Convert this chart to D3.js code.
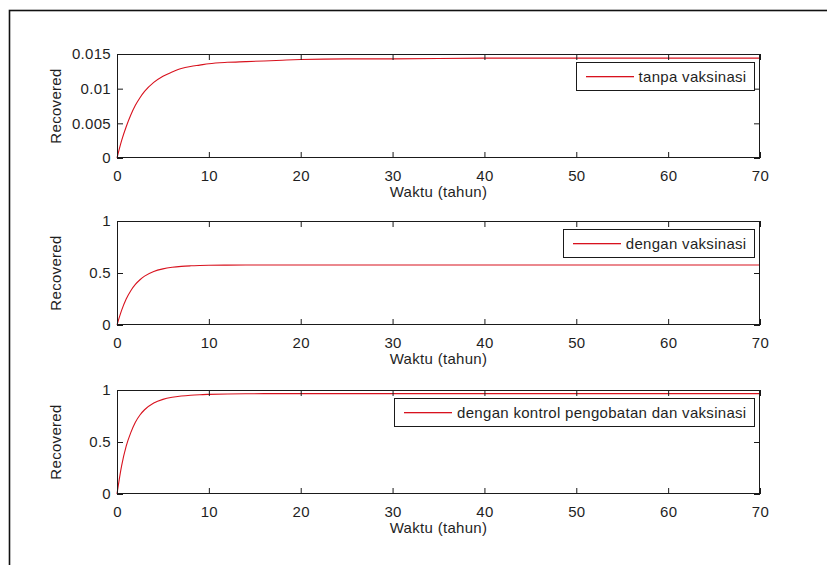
<!DOCTYPE html>
<html>
<head>
<meta charset="utf-8">
<script src="https://cdn.jsdelivr.net/npm/d3@7"></script>
<style>
  html, body { margin: 0; padding: 0; background: #fff; }
  svg { display: block; }
  text { font-family: "Liberation Sans", Arial, sans-serif; fill: #1f1f1f; }
</style>
</head>
<body>
<svg id="fig" width="827" height="565"></svg>
<script>
// Time samples (years)
const tahun = [0, 0.5, 1, 1.5, 2, 2.5, 3, 4, 5, 6, 7, 8, 9, 10, 12, 14, 16, 18, 20, 25, 30, 40, 50, 60, 70];

// Recovered population for each scenario
const tanpaVaksinasi = [0, 0.0025, 0.0045, 0.0062, 0.0076, 0.0087, 0.0096, 0.0109, 0.0118, 0.0124, 0.0129, 0.0132, 0.0134, 0.0136, 0.0138, 0.0139, 0.0140, 0.0141, 0.0142, 0.0143, 0.0143, 0.0144, 0.0144, 0.0144, 0.0144];
const denganVaksinasi = [0, 0.14, 0.25, 0.33, 0.39, 0.435, 0.47, 0.515, 0.54, 0.555, 0.564, 0.569, 0.572, 0.574, 0.576, 0.577, 0.577, 0.577, 0.577, 0.577, 0.577, 0.577, 0.577, 0.577, 0.577];
const denganKontrol = [0, 0.27, 0.46, 0.59, 0.69, 0.76, 0.81, 0.875, 0.91, 0.93, 0.942, 0.95, 0.955, 0.958, 0.962, 0.964, 0.965, 0.965, 0.965, 0.965, 0.965, 0.965, 0.965, 0.965, 0.965];

// Axis ticks
const xTicks = [0, 10, 20, 30, 40, 50, 60, 70];
const yTicks1 = [0, 0.005, 0.01, 0.015];
const yTicks2 = [0, 0.5, 1];
const yTickFmt1 = ["0", "0.005", "0.01", "0.015"];
const yTickFmt2 = ["0", "0.5", "1"];

const xLabel = "Waktu (tahun)";
const yLabel = "Recovered";

const panels = [
  { values: tanpaVaksinasi, yMax: 0.015, ticks: yTicks1, tickText: yTickFmt1, legend: "tanpa vaksinasi", top: 54 },
  { values: denganVaksinasi, yMax: 1, ticks: yTicks2, tickText: yTickFmt2, legend: "dengan vaksinasi", top: 221 },
  { values: denganKontrol, yMax: 1, ticks: yTicks2, tickText: yTickFmt2, legend: "dengan kontrol pengobatan dan vaksinasi", top: 390 }
];

const svg = d3.select("#fig");
const left = 117, right = 760, plotH = 104, tickLen = 6;
const lineColor = "#d8121e";
const fontSize = 15;
const spacing = "0.3px";

// Figure frame
svg.append("rect")
  .attr("x", 9.5).attr("y", 10.5)
  .attr("width", 900).attr("height", 700)
  .attr("fill", "#fff").attr("stroke", "#111").attr("stroke-width", 1.6);

const x = d3.scaleLinear().domain([0, 70]).range([left, right]);

panels.forEach(p => {
  const top = p.top, bottom = top + plotH;
  const y = d3.scaleLinear().domain([0, p.yMax]).range([bottom, top]);
  const g = svg.append("g");

  g.append("rect").attr("x", left).attr("y", top)
    .attr("width", right - left).attr("height", plotH).attr("fill", "#fff");

  // Data curve
  const line = d3.line()
    .x((d, i) => x(tahun[i]))
    .y(d => y(d))
    .curve(d3.curveMonotoneX);
  g.append("path").datum(p.values)
    .attr("d", line)
    .attr("fill", "none")
    .attr("stroke", lineColor)
    .attr("stroke-width", 1.1);

  // Axes: bottom/left labelled, top/right tick marks only (inward ticks)
  const axB = d3.axisBottom(x).tickValues(xTicks).tickSize(-tickLen).tickPadding(tickLen + 6).tickFormat(d3.format("d"));
  const axT = d3.axisTop(x).tickValues(xTicks).tickSize(-tickLen).tickFormat("");
  const axL = d3.axisLeft(y).tickValues(p.ticks).tickSize(-tickLen).tickPadding(tickLen)
    .tickFormat((d, i) => p.tickText[i]);
  const axR = d3.axisRight(y).tickValues(p.ticks).tickSize(-tickLen).tickFormat("");

  const styleAxis = sel => {
    sel.select(".domain").remove();
    sel.selectAll("line").attr("stroke", "#1a1a1a");
    sel.selectAll("text").attr("font-size", fontSize).attr("letter-spacing", spacing)
      .attr("font-family", "Liberation Sans, Arial, sans-serif").attr("fill", "#1f1f1f");
  };
  g.append("g").attr("transform", `translate(0,${bottom})`).call(axB).call(styleAxis);
  g.append("g").attr("transform", `translate(0,${top})`).call(axT).call(styleAxis);
  g.append("g").attr("transform", `translate(${left},0)`).call(axL).call(styleAxis);
  g.append("g").attr("transform", `translate(${right},0)`).call(axR).call(styleAxis);

  // Box
  g.append("rect").attr("x", left + 0.5).attr("y", top + 0.5)
    .attr("width", right - left - 1).attr("height", plotH - 1)
    .attr("fill", "none").attr("stroke", "#1a1a1a").attr("stroke-width", 1);

  // Axis labels
  g.append("text").attr("x", (left + right) / 2).attr("y", bottom + 39)
    .attr("text-anchor", "middle").attr("font-size", fontSize)
    .attr("letter-spacing", spacing).text(xLabel);
  g.append("text")
    .attr("transform", `translate(61,${(top + bottom) / 2}) rotate(-90)`)
    .attr("text-anchor", "middle").attr("font-size", fontSize)
    .attr("letter-spacing", spacing).text(yLabel);

  // Legend
  const lg = g.append("g");
  const boxRight = right - 5.5, boxTop = top + 8.5, boxH = 28;
  const midY = top + 22;
  const txt = lg.append("text").attr("font-size", fontSize).attr("letter-spacing", spacing)
    .attr("text-anchor", "end")
    .attr("x", boxRight - 8).attr("y", midY + 6).text(p.legend);
  const tw = txt.node().getComputedTextLength();
  const lineEnd = Math.round(boxRight - 8 - tw - 5), lineStart = lineEnd - 48;
  const boxLeft = lineStart - 9.5;
  lg.insert("rect", "text").attr("x", boxLeft).attr("y", boxTop)
    .attr("width", boxRight - boxLeft).attr("height", boxH)
    .attr("fill", "#fff").attr("stroke", "#1a1a1a").attr("stroke-width", 1);
  // legend sample line drawn as a thin filled strip
  lg.append("rect").attr("x", lineStart).attr("y", midY)
    .attr("width", lineEnd - lineStart).attr("height", 1.3)
    .attr("fill", lineColor);
});
</script>
</body>
</html>
